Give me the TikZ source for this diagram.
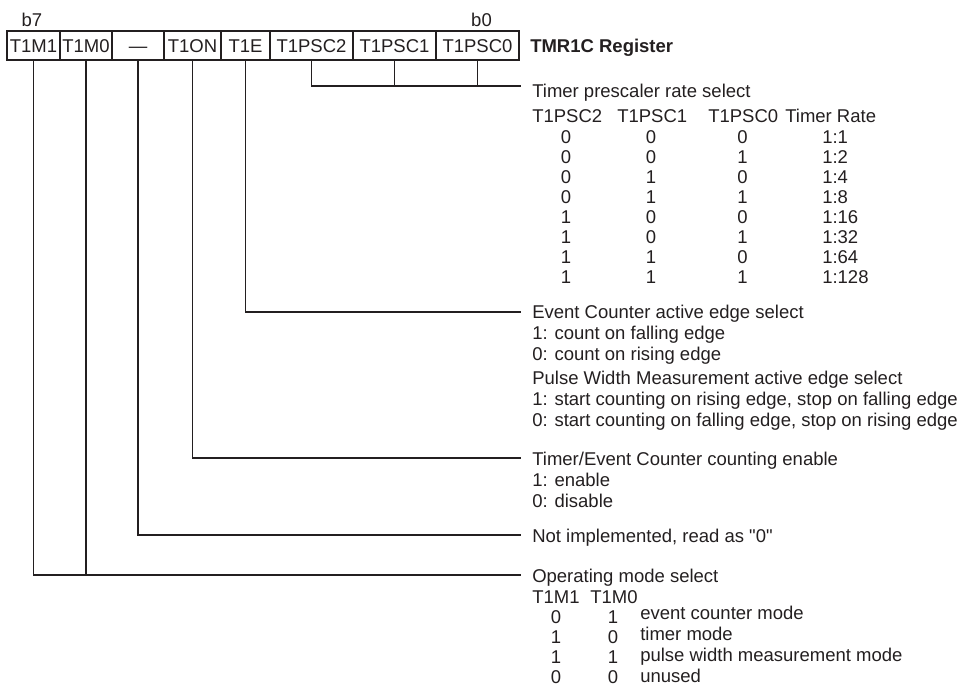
\documentclass[tikz,border=0pt]{standalone}
\usepackage{fontspec}
\setmainfont{Liberation Sans}
\definecolor{ink}{RGB}{35,31,32}
\begin{document}
\begin{tikzpicture}[x=0.75pt,y=-0.75pt,
  every node/.style={font=\fontsize{13.875}{16}\selectfont, text=ink},
  cell/.style={draw=ink, line width=0.9pt, minimum height=21.75pt, inner sep=0pt, outer sep=0pt, text height=9.93pt, text depth=0pt, anchor=center},
  txt/.style={anchor=base west, inner sep=0pt},
  ctr/.style={anchor=base, inner sep=0pt},
  wire/.style={draw=ink, line width=0.9pt}]
\useasboundingbox (0,0) rectangle (960,686);
% bit labels
\node[ctr] (lb7) at (32,26) {b7};
\node[ctr] (lb0) at (481.5,26) {b0};
% register cells
\node[cell, minimum width=39.75pt] (c7) at (33.5,45.5) {T1M1};
\node[cell, minimum width=39pt] (c6) at (86,45.5) {T1M0};
\node[cell, minimum width=39pt] (c5) at (138,45.5) {\textemdash};
\node[cell, minimum width=42.75pt] (c4) at (192.5,45.5) {T1ON};
\node[cell, minimum width=36.75pt] (c3) at (245.5,45.5) {T1E};
\node[cell, minimum width=62.25pt] (c2) at (311.5,45.5) {T1PSC2};
\node[cell, minimum width=62.25pt] (c1) at (394.5,45.5) {T1PSC1};
\node[cell, minimum width=62.25pt] (c0) at (477.5,45.5) {T1PSC0};
\node[txt, font=\fontsize{13.875}{16}\selectfont\bfseries] (title) at (530,52) {TMR1C Register};
% connectors
\coordinate (pscEnd) at (521,86);
\draw[wire] (c2.south) |- (pscEnd);
\draw[wire] (c1.south) -- (c1.south |- pscEnd);
\draw[wire] (c0.south) -- (c0.south |- pscEnd);
\coordinate (t1eEnd) at (521,312);
\draw[wire] (c3.south) |- (t1eEnd);
\coordinate (onEnd) at (521,458);
\draw[wire] (c4.south) |- (onEnd);
\coordinate (niEnd) at (521,535);
\draw[wire] (c5.south) |- (niEnd);
\coordinate (modeEnd) at (521,575);
\draw[wire] (c7.south) |- (modeEnd);
\draw[wire] (c6.south) -- (c6.south |- modeEnd);
% prescaler block
\node[txt] (psc) at (532,97) {Timer prescaler rate select};
\node[txt] (h2) at (532,122) {T1PSC2};
\node[txt] (h1) at (617,122) {T1PSC1};
\node[txt] (h0) at (708,122) {T1PSC0};
\node[txt] (hr) at (785,122) {Timer Rate};
\foreach \a/\b/\c/\r [count=\i from 0] in {0/0/0/1:1,0/0/1/1:2,0/1/0/1:4,0/1/1/1:8,1/0/0/1:16,1/0/1/1:32,1/1/0/1:64,1/1/1/1:128}{
  \node[ctr] (ra\i) at (566,143+20*\i) {\a};
  \node[ctr] (rb\i) at (651,143+20*\i) {\b};
  \node[ctr] (rc\i) at (742.5,143+20*\i) {\c};
  \node[txt] (rr\i) at (822,143+20*\i) {\r};
}
% T1E block
\node[txt] (e1) at (532,318) {Event Counter active edge select};
\node[txt] (e2) at (532,339) {1: count on falling edge};
\node[txt] (e3) at (532,360) {0: count on rising edge};
\node[txt] (e4) at (532,384) {Pulse Width Measurement active edge select};
\node[txt] (e5) at (532,405) {1: start counting on rising edge, stop on falling edge};
\node[txt] (e6) at (532,426) {0: start counting on falling edge, stop on rising edge};
% T1ON block
\node[txt] (o1) at (532,465) {Timer/Event Counter counting enable};
\node[txt] (o2) at (532,486) {1: enable};
\node[txt] (o3) at (532,507) {0: disable};
% not implemented
\node[txt] (n1) at (532,542) {Not implemented, read as \textquotedbl 0\textquotedbl};
% mode block
\node[txt] (m1) at (532,582) {Operating mode select};
\node[txt] (mh1) at (532,603) {T1M1};
\node[txt] (mh0) at (590,603) {T1M0};
\foreach \a/\b/\d [count=\i from 0] in {0/1/event counter mode,1/0/timer mode,1/1/pulse width measurement mode,0/0/unused}{
  \node[ctr] (ma\i) at (556,623+20*\i) {\a};
  \node[ctr] (mb\i) at (613,623+20*\i) {\b};
  \node[txt] (md\i) at (640,619+21*\i) {\d};
}
\end{tikzpicture}
\end{document}
